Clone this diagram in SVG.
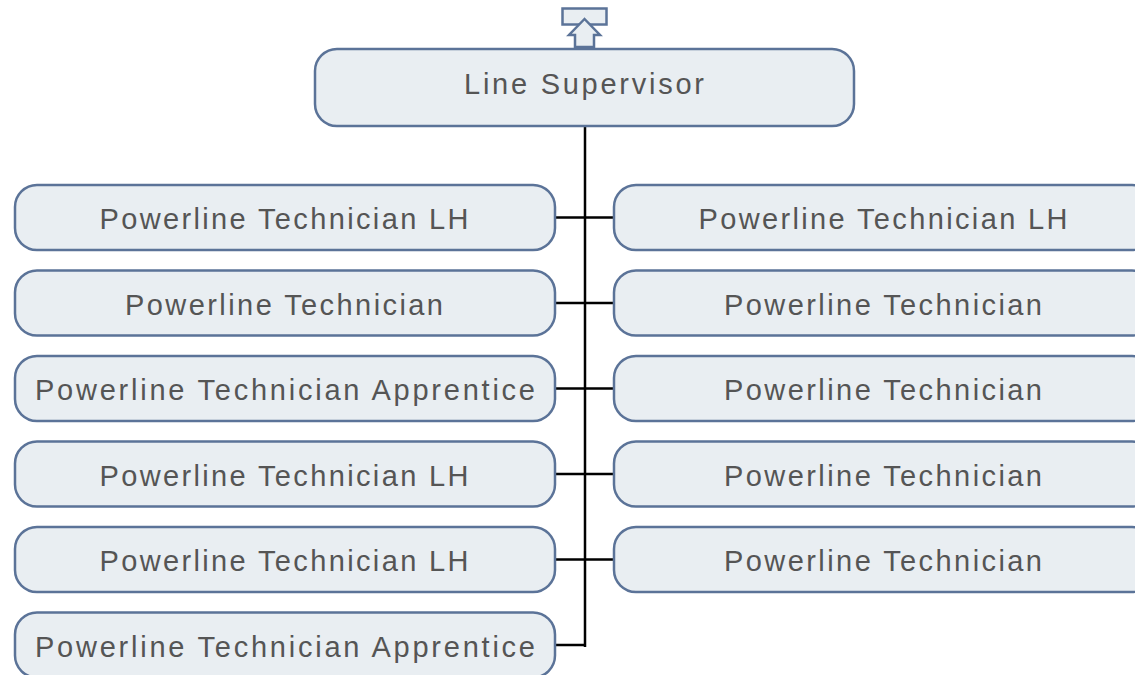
<svg xmlns="http://www.w3.org/2000/svg" width="1135" height="675" viewBox="0 0 1135 675">
<style>
.box{fill:#e9eef2;stroke:#5b7398;stroke-width:2.5}
.t{font-family:"Liberation Sans",Arial,sans-serif;font-size:29px;fill:#555555;text-anchor:middle}
.c{stroke:#000;stroke-width:2.5;fill:none}
</style>
<rect width="1135" height="675" fill="#ffffff"/>
<g id="icon">
<rect x="562.5" y="8.5" width="44" height="16" class="box" stroke-width="3"/>
<polygon points="584.5,19 569,35 575,35 575,47 594,47 594,35 600,35" class="box"/>
</g>
<g id="connectors">
<path class="c" d="M585,126 V647 M555,217.5 H614 M555,303 H614 M555,388.5 H614 M555,474 H614 M555,559.5 H614 M555,645 H585"/>
</g>
<g id="n0"><rect class="box" x="315" y="49" width="539" height="77" rx="22"/><text class="t" x="584" y="94" textLength="240" lengthAdjust="spacing">Line Supervisor</text></g>
<g id="l1"><rect class="box" x="15" y="185" width="540" height="65" rx="22"/><text class="t" x="284" y="229" textLength="369" lengthAdjust="spacing">Powerline Technician LH</text></g>
<g id="l2"><rect class="box" x="15" y="270.5" width="540" height="65" rx="22"/><text class="t" x="284" y="314.5" textLength="318" lengthAdjust="spacing">Powerline Technician</text></g>
<g id="l3"><rect class="box" x="15" y="356" width="540" height="65" rx="22"/><text class="t" x="285" y="400" textLength="500" lengthAdjust="spacing">Powerline Technician Apprentice</text></g>
<g id="l4"><rect class="box" x="15" y="441.5" width="540" height="65" rx="22"/><text class="t" x="284" y="485.5" textLength="369" lengthAdjust="spacing">Powerline Technician LH</text></g>
<g id="l5"><rect class="box" x="15" y="527" width="540" height="65" rx="22"/><text class="t" x="284" y="571" textLength="369" lengthAdjust="spacing">Powerline Technician LH</text></g>
<g id="l6"><rect class="box" x="15" y="612.5" width="540" height="65" rx="22"/><text class="t" x="285" y="657" textLength="500" lengthAdjust="spacing">Powerline Technician Apprentice</text></g>
<g id="r1"><rect class="box" x="614" y="185" width="540" height="65" rx="22"/><text class="t" x="883" y="229" textLength="369" lengthAdjust="spacing">Powerline Technician LH</text></g>
<g id="r2"><rect class="box" x="614" y="270.5" width="540" height="65" rx="22"/><text class="t" x="883" y="314.5" textLength="318" lengthAdjust="spacing">Powerline Technician</text></g>
<g id="r3"><rect class="box" x="614" y="356" width="540" height="65" rx="22"/><text class="t" x="883" y="400" textLength="318" lengthAdjust="spacing">Powerline Technician</text></g>
<g id="r4"><rect class="box" x="614" y="441.5" width="540" height="65" rx="22"/><text class="t" x="883" y="485.5" textLength="318" lengthAdjust="spacing">Powerline Technician</text></g>
<g id="r5"><rect class="box" x="614" y="527" width="540" height="65" rx="22"/><text class="t" x="883" y="571" textLength="318" lengthAdjust="spacing">Powerline Technician</text></g>
</svg>
